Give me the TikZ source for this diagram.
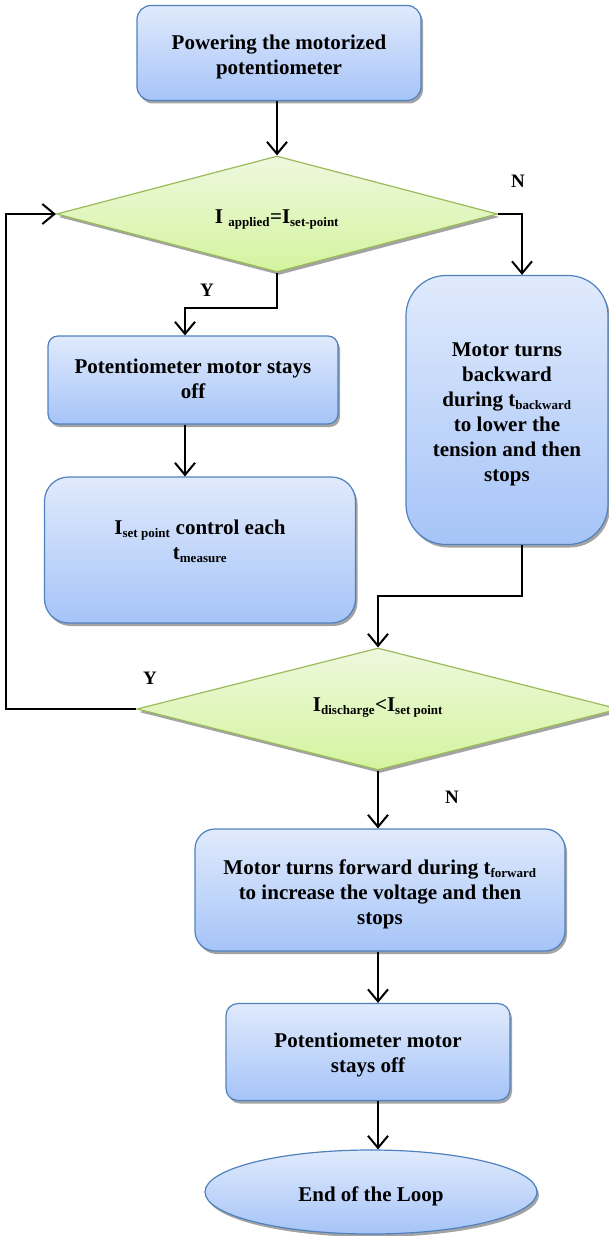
\documentclass[tikz,border=0pt]{standalone}
\usepackage{fontspec}
\setmainfont{Liberation Serif}
\usetikzlibrary{shapes.geometric,shadows,arrows.meta,calc}
\definecolor{btop}{RGB}{224,234,252}
\definecolor{bbot}{RGB}{166,196,248}
\definecolor{bdr}{RGB}{79,129,189}
\definecolor{gtop}{RGB}{238,248,222}
\definecolor{gbot}{RGB}{212,244,158}
\definecolor{gdr}{RGB}{155,187,89}
\newcommand{\sbs}[1]{\textsubscript{\fontsize{13}{13}\selectfont #1}}
\newcommand{\lw}[2][-4pt]{\raisebox{#1}[\height][\depth]{\begin{tabular}{@{}c@{}}#2\end{tabular}}}
\tikzset{
  shad/.style={drop shadow={shadow xshift=2pt, shadow yshift=-3pt, fill=black!60, opacity=0.6}},
  proc/.style={shad, draw=bdr, line width=1.2pt, top color=btop, bottom color=bbot,
    align=center, inner sep=2pt, font=\bfseries\fontsize{21}{25}\selectfont},
  dec/.style={shad, diamond, draw=gdr, line width=1.2pt, top color=gtop, bottom color=gbot,
    inner sep=0pt, align=center, font=\bfseries\fontsize{21}{25}\selectfont},
  lbl/.style={font=\bfseries\fontsize{19}{19}\selectfont, inner sep=0pt},
  arr/.style={line width=2pt, -{Straight Barb[length=12pt,width=20pt,line width=2pt]}}
}
\begin{document}
\begin{tikzpicture}[x=1pt,y=-1pt]
\useasboundingbox (0,0) rectangle (609,1236);
\node[proc, rounded corners=14pt, minimum width=284pt, minimum height=95pt] (b1) at (279,53)
  {\lw{Powering the motorized\\potentiometer}};
\node[dec, aspect=3.8, minimum width=441pt, minimum height=116pt] (d1) at (277,214)
  {\lw{I \sbs{applied}=I\sbs{set-point}}};
\node[proc, rounded corners=10pt, minimum width=290pt, minimum height=88pt] (b2) at (193,380)
  {\lw[-1pt]{Potentiometer motor stays\\off}};
\node[proc, rounded corners=24pt, minimum width=311pt, minimum height=146pt] (b3) at (200,550)
  {\lw[8pt]{I\sbs{set point} control each\\t\sbs{measure}}};
\node[proc, rounded corners=40pt, minimum width=202pt, minimum height=269pt] (b4) at (507,410)
  {\lw{Motor turns\\backward\\during t\sbs{backward}\\to lower the\\tension and then\\stops}};
\node[dec, aspect=3.95, minimum width=482pt, minimum height=122pt] (d2) at (378,709)
  {\lw[3pt]{I\sbs{discharge}<I\sbs{set point}}};
\node[proc, rounded corners=20pt, minimum width=370pt, minimum height=122pt] (b5) at (380,890)
  {\lw{Motor turns forward during t\sbs{forward}\\to increase the voltage and then\\stops}};
\node[proc, rounded corners=12pt, minimum width=284pt, minimum height=97pt] (b6) at (368,1052)
  {\lw[-3pt]{Potentiometer motor\\stays off}};
\node[proc, ellipse, minimum width=332pt, minimum height=84pt] (e) at (371,1192)
  {\lw{End of the Loop}};

\node[lbl] (ln1) at (518,181) {N};
\node[lbl] (ly1) at (207,290) {Y};
\node[lbl] (ly2) at (150,678) {Y};
\node[lbl] (ln2) at (452,797) {N};

\draw[arr] ([xshift=-2pt]b1.south) -- ([xshift=-2pt]b1.south |- d1.north);
\draw[arr] (d1.east) -| ([xshift=15pt]b4.north);
\draw[arr] (d1.south) -- ++(0,35) -| ([xshift=-8pt]b2.north);
\draw[arr] ([xshift=-8pt]b2.south) -- ([xshift=-8pt]b2.south |- b3.north);
\draw[arr] ([xshift=15pt]b4.south) -- ++(0,51) -| (d2.north);
\draw[arr] (d2.west) -- ++(-130,0) |- (d1.west);
\draw[arr] (d2.south) -- (d2.south |- b5.north);
\draw[arr] ([xshift=-2pt]b5.south) -- ([xshift=-2pt]b5.south |- b6.north);
\draw[arr] ([xshift=10pt]b6.south) -- ([xshift=10pt]b6.south |- e.north);
\end{tikzpicture}
\end{document}
